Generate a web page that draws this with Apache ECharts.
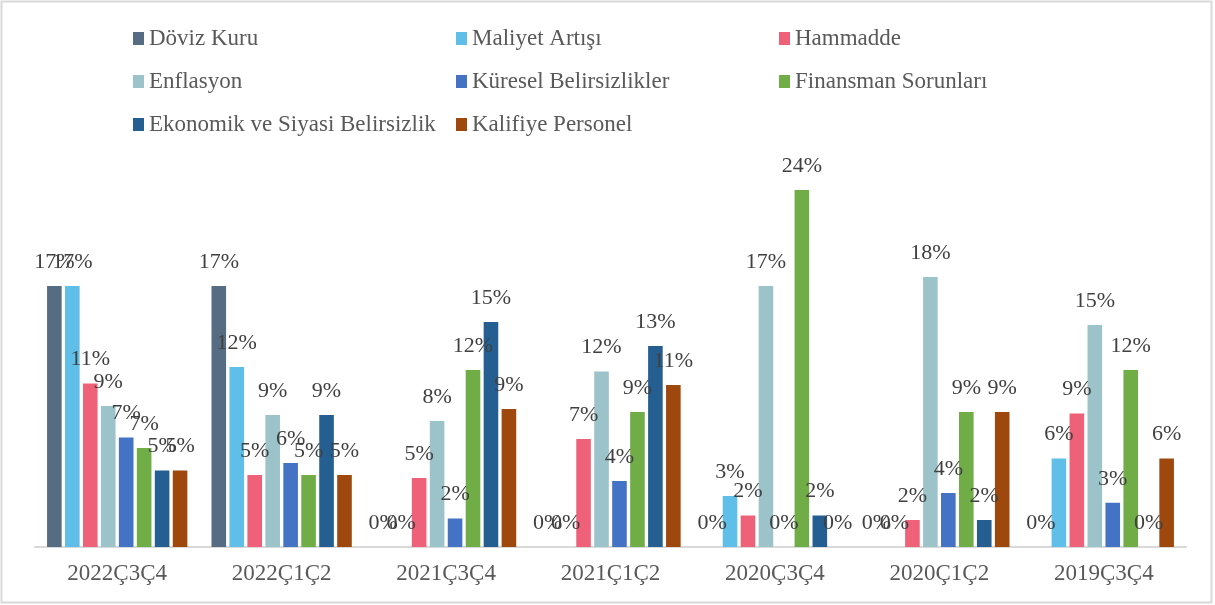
<!DOCTYPE html>
<html>
<head>
<meta charset="utf-8">
<script src="https://cdn.jsdelivr.net/npm/echarts@6/dist/echarts.min.js"></script>
<style>
  html, body { margin: 0; padding: 0; background: #fff; }
  #chart { width: 1215px; height: 605px; }
</style>
</head>
<body>
<div id="chart"></div>
<script>
// periods on the x axis
const periods = ["2022Ç3Ç4", "2022Ç1Ç2", "2021Ç3Ç4", "2021Ç1Ç2", "2020Ç3Ç4", "2020Ç1Ç2", "2019Ç3Ç4"];

// share of answers per factor, in percent
const dovizKuru      = [17.4, 17.4, 0, 0, 0, 0, 0];
const maliyetArtisi  = [17.4, 12.0, 0, 0, 3.4, 0, 5.9];
const hammadde       = [10.9, 4.8, 4.6, 7.2, 2.1, 1.8, 8.9];
const enflasyon      = [9.4, 8.8, 8.4, 11.7, 17.4, 18.0, 14.8];
const kureselBel     = [7.3, 5.6, 1.9, 4.4, 0, 3.6, 2.95];
const finansman      = [6.6, 4.8, 11.8, 9.0, 23.8, 9.0, 11.8];
const ekonomikSiyasi = [5.1, 8.8, 15.0, 13.4, 2.1, 1.8, 0];
const kalifiye       = [5.1, 4.8, 9.2, 10.8, 0, 9.0, 5.9];

const seriesDefs = [
    { name: "Döviz Kuru", data: dovizKuru, color: "#566c83" },
    { name: "Maliyet Artışı", data: maliyetArtisi, color: "#5fbfe8" },
    { name: "Hammadde", data: hammadde, color: "#ef6079" },
    { name: "Enflasyon", data: enflasyon, color: "#9cc3c9" },
    { name: "Küresel Belirsizlikler", data: kureselBel, color: "#4472c4" },
    { name: "Finansman Sorunları", data: finansman, color: "#70ad47" },
    { name: "Ekonomik ve Siyasi Belirsizlik", data: ekonomikSiyasi, color: "#255e91" },
    { name: "Kalifiye Personel", data: kalifiye, color: "#9e480e" }
];

const serif = "'Liberation Serif', 'Times New Roman', serif";

const legendBase = {
    orient: "vertical",
    top: 27,
    padding: 0,
    itemWidth: 11,
    itemHeight: 13,
    itemGap: 20,
    itemTextGap: 6,
    icon: "rect",
    selectedMode: false,
    textStyle: { fontFamily: serif, fontSize: 23, color: "#595959", lineHeight: 23 }
};

const chart = echarts.init(document.getElementById("chart"));
chart.setOption({
    animation: false,
    graphic: [
        {
            type: "rect",
            shape: { x: 1.5, y: 1.5, width: 1210, height: 601 },
            style: { fill: "none", stroke: "#d9d9d9", lineWidth: 2 },
            silent: true
        }
    ],
    legend: [
        Object.assign({}, legendBase, { left: 133, data: ["Döviz Kuru", "Enflasyon", "Ekonomik ve Siyasi Belirsizlik"] }),
        Object.assign({}, legendBase, { left: 456, data: ["Maliyet Artışı", "Küresel Belirsizlikler", "Kalifiye Personel"] }),
        Object.assign({}, legendBase, { left: 779, data: ["Hammadde", "Finansman Sorunları"] })
    ],
    grid: { left: 35, right: 29, top: 172, bottom: 58 },
    xAxis: {
        type: "category",
        data: periods,
        axisTick: { show: false },
        axisLine: { lineStyle: { color: "#d9d9d9", width: 2 } },
        axisLabel: { fontFamily: serif, fontSize: 23, color: "#595959", margin: 15 }
    },
    yAxis: {
        type: "value",
        min: 0,
        max: 25,
        show: false,
        splitLine: { show: false }
    },
    series: seriesDefs.map(s => ({
        name: s.name,
        type: "bar",
        data: s.data,
        barWidth: 14.6,
        barGap: "23%",
        itemStyle: { color: s.color },
        label: {
            show: true,
            position: "top",
            distance: 13,
            fontFamily: serif,
            fontSize: 22,
            color: "#404040",
            formatter: p => Math.round(p.value) + "%"
        }
    }))
});
</script>
</body>
</html>
